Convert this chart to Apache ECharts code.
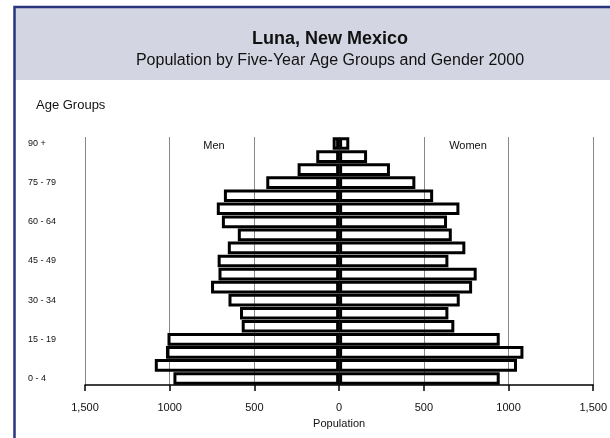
<!DOCTYPE html>
<html>
<head>
<meta charset="utf-8">
<script src="https://cdn.jsdelivr.net/npm/echarts@6/dist/echarts.min.js"></script>
<style>
  html, body { margin: 0; padding: 0; background: #fff; }
  #chart { width: 610px; height: 438px; }
</style>
</head>
<body>
<div id="chart"></div>
<script>
const ageGroups = ['0 - 4', '5 - 9', '10 - 14', '15 - 19', '20 - 24', '25 - 29', '30 - 34',
  '35 - 39', '40 - 44', '45 - 49', '50 - 54', '55 - 59', '60 - 64', '65 - 69',
  '70 - 74', '75 - 79', '80 - 84', '85 - 89', '90 +'];
const men = [978, 1088, 1022, 1013, 575, 585, 653, 756, 712, 717, 657, 598, 692, 722, 680, 430, 245, 135, 38];
const women = [948, 1050, 1088, 948, 680, 645, 712, 785, 812, 645, 745, 665, 637, 710, 555, 450, 300, 165, 60];
const xTickLabels = ['1,500', '1000', '500', '0', '500', '1000', '1,500'];

const font = 'Liberation Sans, Arial, sans-serif';
const chart = echarts.init(document.getElementById('chart'));

// bars are drawn as outlines only, gridlines show through
const barStyle = { color: 'rgba(255,255,255,0)', borderColor: '#000', borderWidth: 3 };

const option = {
  animation: false,
  backgroundColor: '#fff',
  title: {
    text: 'Luna, New Mexico',
    subtext: 'Population by Five-Year Age Groups and Gender 2000',
    left: 325,
    top: 25,
    textAlign: 'center',
    itemGap: 5,
    textStyle: { fontFamily: font, fontSize: 18, fontWeight: 'bold', color: '#111' },
    subtextStyle: { fontFamily: font, fontSize: 16, color: '#111' }
  },
  graphic: [
    { type: 'rect', z: -10, shape: { x: 14, y: 7, width: 620, height: 73 }, style: { fill: '#d3d5e2' } },
    { type: 'rect', z: 100, shape: { x: 14.5, y: 7, width: 620, height: 460 }, style: { fill: 'none', stroke: '#28347d', lineWidth: 2.5 } },
    { type: 'text', x: 36, y: 105, style: { text: 'Age Groups', font: '13px ' + font, fill: '#111', verticalAlign: 'middle' } },
    { type: 'text', x: 214, y: 146, style: { text: 'Men', font: '11px ' + font, fill: '#111', align: 'center', verticalAlign: 'middle' } },
    { type: 'text', x: 468, y: 146, style: { text: 'Women', font: '11px ' + font, fill: '#111', align: 'center', verticalAlign: 'middle' } }
  ],
  grid: { left: 85, right: 12, top: 137, bottom: 53, containLabel: false },
  xAxis: {
    type: 'value',
    min: -1500,
    max: 1500,
    interval: 500,
    name: 'Population',
    nameLocation: 'middle',
    nameGap: 33,
    nameTextStyle: { fontFamily: font, fontSize: 11, color: '#111' },
    axisLine: { show: true, lineStyle: { color: '#000', width: 1.5 } },
    axisTick: { show: true, length: 6, lineStyle: { color: '#000', width: 1.5 } },
    axisLabel: {
      margin: 17,
      fontFamily: font,
      fontSize: 11,
      color: '#111',
      formatter: v => xTickLabels[Math.round((v + 1500) / 500)]
    },
    splitLine: { show: true, lineStyle: { color: '#888', width: 1 } }
  },
  yAxis: {
    type: 'category',
    data: ageGroups,
    axisLine: { show: false },
    axisTick: { show: false },
    axisLabel: {
      interval: 2,
      align: 'left',
      margin: 57,
      fontFamily: font,
      fontSize: 9,
      color: '#111'
    }
  },
  series: [
    {
      name: 'Men',
      type: 'bar',
      barGap: '-100%',
      barCategoryGap: '3%',
      data: men.map(v => -v),
      itemStyle: barStyle
    },
    {
      name: 'Women',
      type: 'bar',
      barGap: '-100%',
      barCategoryGap: '3%',
      data: women,
      itemStyle: barStyle
    }
  ]
};
chart.setOption(option);
</script>
</body>
</html>
